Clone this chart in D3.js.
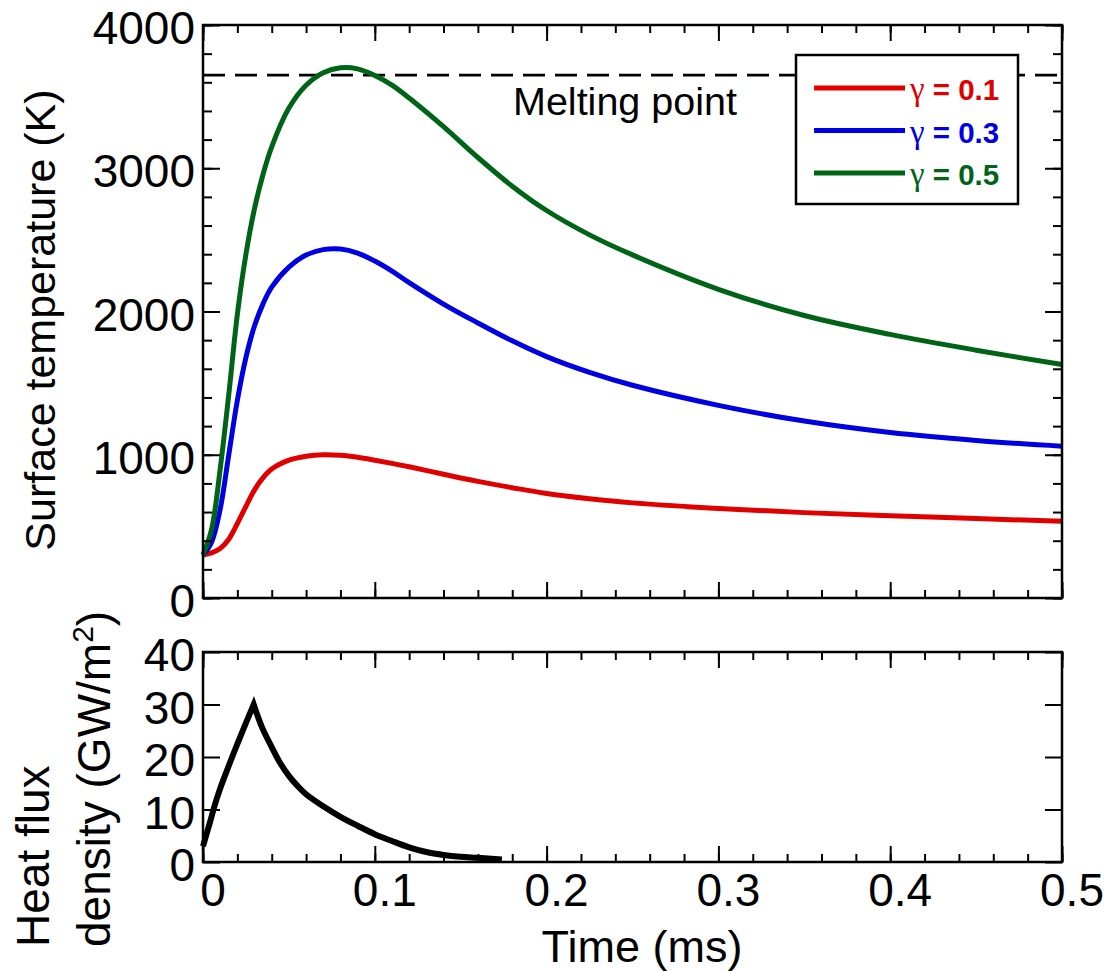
<!DOCTYPE html>
<html>
<head>
<meta charset="utf-8">
<script src="https://cdn.jsdelivr.net/npm/d3@7"></script>
<style>
  html, body { margin: 0; padding: 0; background: #fff; }
  svg { display: block; }
  text { font-family: "Liberation Sans", Arial, sans-serif; fill: #000; }
</style>
</head>
<body>
<svg id="chart" width="1111" height="971"></svg>
<script>
// ---------------- data ----------------
const timeMs = [0, 0.005, 0.01, 0.015, 0.02, 0.025, 0.03, 0.035, 0.04, 0.05, 0.06, 0.07, 0.08, 0.09, 0.1,
                0.11, 0.12, 0.14, 0.16, 0.18, 0.2, 0.225, 0.25, 0.3, 0.35, 0.4, 0.45, 0.5];
const tempGamma01 = [300, 315, 345, 410, 520, 640, 755, 840, 900, 962, 990, 1000, 996, 982, 962,
                     940, 916, 864, 814, 770, 730, 693, 664, 625, 596, 574, 555, 535];
const tempGamma03 = [300, 390, 620, 1000, 1380, 1680, 1900, 2055, 2170, 2310, 2395, 2432, 2436, 2408, 2352,
                     2282, 2202, 2052, 1920, 1795, 1685, 1575, 1485, 1345, 1235, 1155, 1100, 1060];
const tempGamma05 = [300, 480, 900, 1420, 1980, 2400, 2720, 2960, 3150, 3420, 3580, 3667, 3702, 3694, 3648,
                     3580, 3490, 3290, 3075, 2875, 2705, 2535, 2395, 2155, 1972, 1840, 1730, 1630];
const gammaValues = ["0.1", "0.3", "0.5"];
const seriesColors = ["#e00000", "#0000e0", "#006416"];

const fluxTime   = [0, 0.004, 0.007, 0.010, 0.0146, 0.020, 0.025, 0.0295,
                    0.0343, 0.040, 0.045, 0.050, 0.055, 0.060, 0.070, 0.080, 0.090, 0.100,
                    0.110, 0.120, 0.130, 0.140, 0.150, 0.160, 0.174];
const fluxValues = [3, 7.5, 11, 14, 18, 22.5, 26.5, 30,
                    25.7, 21.9, 18.8, 16.4, 14.5, 12.9, 10.6, 8.6, 6.9, 5.3,
                    4.0, 2.8, 1.9, 1.35, 1.0, 0.8, 0.5];

const meltingPoint = 3650;
const xMajorTicks = [0, 0.1, 0.2, 0.3, 0.4, 0.5];
const xMinorTicks = d3.range(0, 0.5001, 0.02);
const xTickLabels = ["0", "0.1", "0.2", "0.3", "0.4", "0.5"];
const tempMajorTicks = [0, 1000, 2000, 3000, 4000];
const tempMinorTicks = d3.range(0, 4001, 200);
const fluxMajorTicks = [0, 10, 20, 30, 40];

// ---------------- layout ----------------
const svg = d3.select("#chart");
const L = 203, R = 1062;
const topP = { top: 25, bottom: 598 };
const botP = { top: 652, bottom: 862 };

const x = d3.scaleLinear().domain([0, 0.5]).range([L, R]);
const yT = d3.scaleLinear().domain([0, 4000]).range([topP.bottom, topP.top]);
const yF = d3.scaleLinear().domain([0, 40]).range([botP.bottom, botP.top]);

function ticksGroup(axis, tx, ty) {
  const g = svg.append("g").attr("transform", `translate(${tx},${ty})`).call(axis);
  g.select(".domain").remove();
  g.selectAll("text").remove();
  g.selectAll("line").attr("stroke", "#000").attr("stroke-width", 2);
  return g;
}

function panelAxes(yScale, yMajor, yMinor, p) {
  ticksGroup(d3.axisBottom(x).tickValues(xMinorTicks).tickSize(-8), 0, p.bottom);
  ticksGroup(d3.axisBottom(x).tickValues(xMajorTicks).tickSize(-16), 0, p.bottom);
  ticksGroup(d3.axisTop(x).tickValues(xMinorTicks).tickSize(-8), 0, p.top);
  ticksGroup(d3.axisTop(x).tickValues(xMajorTicks).tickSize(-16), 0, p.top);
  if (yMinor) {
    ticksGroup(d3.axisLeft(yScale).tickValues(yMinor).tickSize(-9), L, 0);
    ticksGroup(d3.axisRight(yScale).tickValues(yMinor).tickSize(-9), R, 0);
  }
  ticksGroup(d3.axisLeft(yScale).tickValues(yMajor).tickSize(-17), L, 0);
  ticksGroup(d3.axisRight(yScale).tickValues(yMajor).tickSize(-17), R, 0);
  svg.append("g").selectAll("text").data(yMajor).join("text")
    .attr("x", 195).attr("y", d => yScale(d) + 19)
    .attr("text-anchor", "end").attr("font-size", 46)
    .text(d => d);
}

// ---------------- top panel ----------------
svg.append("line")
  .attr("x1", x(0)).attr("x2", x(0.5))
  .attr("y1", yT(meltingPoint)).attr("y2", yT(meltingPoint))
  .attr("stroke", "#000").attr("stroke-width", 2.6)
  .attr("stroke-dasharray", "22,10");

svg.append("text").attr("x", 513).attr("y", 115)
  .attr("font-size", 39.5).text("Melting point");

const tempSeries = [tempGamma01, tempGamma03, tempGamma05];
const lineT = d3.line().x(d => x(d[0])).y(d => yT(d[1])).curve(d3.curveCatmullRom.alpha(0.5));
tempSeries.forEach((vals, i) => {
  svg.append("path")
    .datum(timeMs.map((t, j) => [t, vals[j]]))
    .attr("d", lineT)
    .attr("fill", "none")
    .attr("stroke", seriesColors[i])
    .attr("stroke-width", 5)
    .attr("stroke-linejoin", "round");
});

svg.append("rect")
  .attr("x", L).attr("y", topP.top)
  .attr("width", R - L).attr("height", topP.bottom - topP.top)
  .attr("fill", "none").attr("stroke", "#000").attr("stroke-width", 2.5);
panelAxes(yT, tempMajorTicks, tempMinorTicks, topP);

// legend
const lg = svg.append("g");
lg.append("rect").attr("x", 796).attr("y", 55).attr("width", 222).attr("height", 149)
  .attr("fill", "#fff").attr("stroke", "#000").attr("stroke-width", 2.5);
const legendRows = [88, 130.5, 173];
gammaValues.forEach((g, i) => {
  lg.append("line").attr("x1", 814).attr("x2", 905)
    .attr("y1", legendRows[i]).attr("y2", legendRows[i])
    .attr("stroke", seriesColors[i]).attr("stroke-width", 5);
  const t = lg.append("text").attr("x", 910).attr("y", legendRows[i] + 12)
    .attr("font-size", 29.5).attr("font-weight", "bold")
    .style("fill", seriesColors[i]);
  t.append("tspan").attr("font-family", "'Liberation Serif', 'Times New Roman', serif")
    .attr("font-weight", "normal").attr("font-size", 33).style("fill", seriesColors[i]).text("γ");
  t.append("tspan").style("fill", seriesColors[i]).text(" = " + g);
});

// ---------------- bottom panel ----------------
const lineF = d3.line().x(d => x(d[0])).y(d => yF(d[1])).curve(d3.curveCatmullRom.alpha(0.5));
const fluxPts = fluxTime.map((t, j) => [t, fluxValues[j]]);
const peakIdx = fluxValues.indexOf(d3.max(fluxValues));
const rise = fluxPts.slice(0, peakIdx + 1);
const fall = fluxPts.slice(peakIdx);
svg.append("path")
  .attr("d", lineF(rise) + lineF(fall).replace(/^M/, "L"))
  .attr("fill", "none").attr("stroke", "#000")
  .attr("stroke-width", 6).attr("stroke-linejoin", "miter");

svg.append("rect")
  .attr("x", L).attr("y", botP.top)
  .attr("width", R - L).attr("height", botP.bottom - botP.top)
  .attr("fill", "none").attr("stroke", "#000").attr("stroke-width", 2.5);
panelAxes(yF, fluxMajorTicks, null, botP);

svg.append("g").selectAll("text").data(xMajorTicks).join("text")
  .attr("x", d => x(d) + 10).attr("y", 906)
  .attr("text-anchor", "middle").attr("font-size", 46)
  .text((d, i) => xTickLabels[i]);

// ---------------- titles ----------------
svg.append("text").attr("transform", "translate(55,320) rotate(-90)")
  .attr("text-anchor", "middle").attr("font-size", 43)
  .text("Surface temperature (K)");

svg.append("text").attr("transform", "translate(49,947) rotate(-90)")
  .attr("text-anchor", "start").attr("font-size", 46)
  .text("Heat flux");
const t2 = svg.append("text").attr("transform", "translate(110,947) rotate(-90)")
  .attr("text-anchor", "start").attr("font-size", 46);
t2.append("tspan").text("density (GW/m");
t2.append("tspan").attr("dy", -17).attr("font-size", 30).text("2");
t2.append("tspan").attr("dy", 17).text(")");

svg.append("text").attr("x", 642).attr("y", 962)
  .attr("text-anchor", "middle").attr("font-size", 45)
  .text("Time (ms)");
</script>
</body>
</html>
